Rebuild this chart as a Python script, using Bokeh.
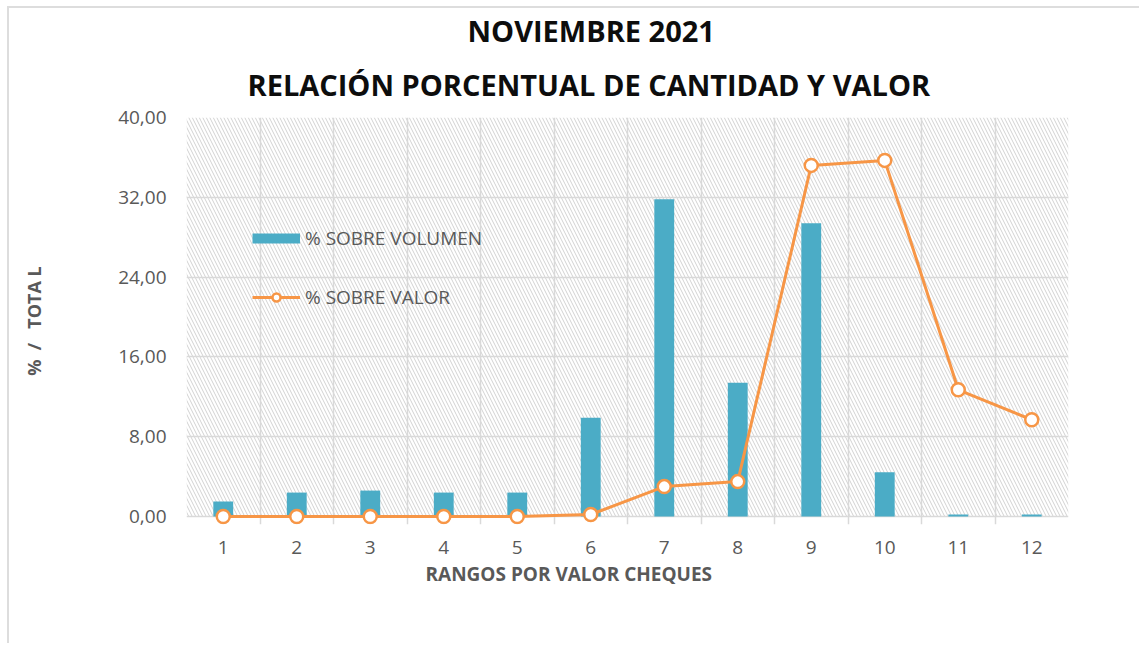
from bokeh.plotting import figure
from bokeh.models import (FixedTicker, Legend, LegendItem, Title, BoxAnnotation, Range1d, LinearAxis)
from bokeh.embed import file_html
from bokeh.resources import INLINE

# ---- data ----
categories = [1, 2, 3, 4, 5, 6, 7, 8, 9, 10, 11, 12]
x_tick_labels = ["1", "2", "3", "4", "5", "6", "7", "8", "9", "10", "11", "12"]
pct_volumen = [1.5, 2.4, 2.6, 2.4, 2.4, 9.9, 31.8, 13.4, 29.4, 4.45, 0.2, 0.2]
pct_valor = [0.0, 0.0, 0.0, 0.0, 0.0, 0.2, 3.0, 3.5, 35.2, 35.7, 12.7, 9.7]
y_ticks = [0, 8, 16, 24, 32, 40]
y_tick_labels = ["0,00", "8,00", "16,00", "24,00", "32,00", "40,00"]
title_lines = ["NOVIEMBRE 2021", "RELACIÓN PORCENTUAL DE CANTIDAD Y VALOR"]
x_title = "RANGOS POR VALOR CHEQUES"
y_title = "%\u00a0\u00a0/\u00a0\u00a0\u00a0TOTA L"
series_names = ["% SOBRE VOLUMEN", "% SOBRE VALOR"]

TEAL = "#4BACC6"
ORANGE = "#F79646"
GREY_TXT = "#595959"
GRID = "#D9D9D9"
FONT = "Open Sans"

W, H = 1132, 637
p = figure(width=W, height=H, x_range=Range1d(0.5, 12.5), y_range=Range1d(-0.8, 40),
           output_backend="svg", toolbar_location=None,
           min_border_left=177, min_border_right=73, min_border_top=104, min_border_bottom=121)
p.styles = {"margin-left": "7px", "margin-top": "6px",
            "border-top": "2px solid #DDDDDD", "border-left": "2px solid #DDDDDD"}
p.outline_line_color = None
p.background_fill_color = "white"

# hatch background of the plot area
p.add_layout(BoxAnnotation(bottom=0, fill_alpha=0, line_alpha=0, hatch_pattern="\\",
                           hatch_color="#D2D2D2", hatch_scale=7, hatch_weight=1, level="image"))

boundaries = [c - 0.5 for c in categories] + [categories[-1] + 0.5]
p.xgrid.ticker = FixedTicker(ticks=boundaries)
p.ygrid.ticker = FixedTicker(ticks=y_ticks)
for g in (p.xgrid, p.ygrid):
    g.grid_line_color = GRID
    g.grid_line_width = 1.5

xa = p.xaxis[0]
xa.ticker = FixedTicker(ticks=categories)
xa.major_label_overrides = {c: l for c, l in zip(categories, x_tick_labels)}
xa.major_tick_line_color = None
xa.minor_tick_line_color = None
xa.axis_line_color = None
xa.major_label_text_color = GREY_TXT
xa.major_label_text_font_size = "19px"
xa.major_label_text_font = FONT
xa.major_label_standoff = 10

ya = p.yaxis[0]
ya.ticker = FixedTicker(ticks=y_ticks)
ya.major_label_overrides = {t: l for t, l in zip(y_ticks, y_tick_labels)}
ya.axis_line_color = None
ya.major_tick_line_color = None
ya.minor_tick_line_color = None
ya.major_label_text_color = GREY_TXT
ya.major_label_text_font_size = "19px"
ya.major_label_text_font = FONT
ya.major_label_standoff = 14

# second left axis carrying only the y title
ya_title = LinearAxis(ticker=FixedTicker(ticks=[]), axis_label=y_title,
                      axis_line_color=None, major_tick_line_color=None, minor_tick_line_color=None,
                      axis_label_standoff=70, axis_label_text_font=FONT,
                      axis_label_text_font_size="18px", axis_label_text_font_style="bold",
                      axis_label_text_color=GREY_TXT)
p.add_layout(ya_title, "left")

# series
p.vbar(x=categories, top=pct_volumen, width=0.27, fill_color=TEAL, line_color=None)
lr = p.line(x=categories, y=pct_valor, line_color=ORANGE, line_width=3)
sr = p.scatter(x=categories, y=pct_valor, size=13, fill_color="white", line_color=ORANGE, line_width=2.5)

# legend proxy for the bars (a thick line swatch)
proxy = p.line(x=[float("nan")], y=[float("nan")], line_color=TEAL, line_width=10)
legend = Legend(items=[LegendItem(label=series_names[0], renderers=[proxy]),
                       LegendItem(label=series_names[1], renderers=[lr, sr])],
                location=(66, 214), padding=0, margin=0, spacing=33,
                glyph_width=48, glyph_height=20, label_height=20, label_standoff=5,
                label_text_font=FONT, label_text_font_size="19px", label_text_color=GREY_TXT,
                background_fill_alpha=0, border_line_color=None)
p.add_layout(legend)

# titles (closest to the plot first)
p.add_layout(Title(text=title_lines[1], align="left", offset=61, standoff=27,
                   text_font=FONT, text_font_size="29px", text_font_style="bold",
                   text_color="#0D0D0D"), "above")
p.add_layout(Title(text=title_lines[0], align="left", offset=281, standoff=0,
                   text_font=FONT, text_font_size="29px", text_font_style="bold",
                   text_color="#0D0D0D"), "above")
p.add_layout(Title(text=x_title, align="left", offset=239, standoff=4,
                   text_font=FONT, text_font_size="19px", text_font_style="bold",
                   text_color=GREY_TXT), "below")

open("out.html", "w").write(file_html(p, INLINE))
